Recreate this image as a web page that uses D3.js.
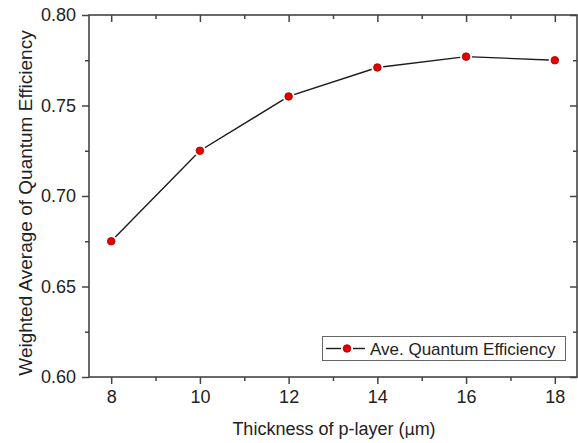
<!DOCTYPE html>
<html>
<head>
<meta charset="utf-8">
<script src="https://cdn.jsdelivr.net/npm/d3@7"></script>
<style>
  body { margin: 0; background: #fff; }
  svg { display: block; font-family: "Liberation Sans", Arial, sans-serif; }
</style>
</head>
<body>
<div id="chart"></div>
<script>
// data
const thickness = [8, 10, 12, 14, 16, 18];
const efficiency = [0.675, 0.725, 0.755, 0.771, 0.777, 0.775];
const xTicks = [8, 10, 12, 14, 16, 18];
const yTicks = [0.60, 0.65, 0.70, 0.75, 0.80];
const seriesName = "Ave. Quantum Efficiency";

const width = 578, height = 443;
const margin = {top: 15, right: 1, bottom: 66, left: 89};

const svg = d3.select("#chart").append("svg")
    .attr("width", width)
    .attr("height", height);

const x = d3.scaleLinear()
    .domain([7.5, 18.5])
    .range([margin.left, width - margin.right]);

const y = d3.scaleLinear()
    .domain([0.60, 0.80])
    .range([height - margin.bottom, margin.top]);

const minorX = d3.range(9, 18, 2);
const minorY = [0.625, 0.675, 0.725, 0.775];

const frameColor = "#444";

// axes: major + minor ticks, outward on left/bottom, inward on top/right
function drawAxis(axisFn, scale, pos, majors, minors, dir, labels) {
  const g = svg.append("g").attr("transform", pos);
  g.call(axisFn(scale).tickValues(minors).tickSize(4 * dir).tickFormat(""));
  g.select(".domain").remove();
  const g2 = svg.append("g").attr("transform", pos);
  g2.call(axisFn(scale).tickValues(majors).tickSize(7 * dir).tickSizeOuter(0)
      .tickPadding(5)
      .tickFormat(labels ? labels : ""));
  g2.select(".domain").remove();
  [g, g2].forEach(s => s.selectAll("line").attr("stroke", frameColor).attr("stroke-width", 1.5));
  g2.selectAll("text")
    .attr("fill", "#222")
    .style("font-size", "18px")
    .style("font-family", "'Liberation Sans', Arial, sans-serif");
  return g2;
}

const bottom = height - margin.bottom;
const gx = drawAxis(d3.axisBottom, x, `translate(0,${bottom})`, xTicks, minorX, 1, d3.format("d"));
gx.selectAll("text").attr("dy", "0.8em");
drawAxis(d3.axisTop, x, `translate(0,${margin.top})`, xTicks, minorX, -1, null);
const gy = drawAxis(d3.axisLeft, y, `translate(${margin.left},0)`, yTicks, minorY, 1, d3.format(".2f"));
gy.selectAll("text").attr("dx", "-1px");
drawAxis(d3.axisRight, y, `translate(${width - margin.right},0)`, yTicks, minorY, -1, null);

// frame
svg.append("rect")
    .attr("x", margin.left)
    .attr("y", margin.top)
    .attr("width", width - margin.right - margin.left)
    .attr("height", bottom - margin.top)
    .attr("fill", "none")
    .attr("stroke", frameColor)
    .attr("stroke-width", 1.6);

const pts = thickness.map((t, i) => ({t: t, v: efficiency[i]}));

// line
svg.append("path")
    .datum(pts)
    .attr("fill", "none")
    .attr("stroke", "#1a1a1a")
    .attr("stroke-width", 1.4)
    .attr("d", d3.line().x(d => x(d.t)).y(d => y(d.v)));

// small gap round markers (Origin style)
svg.append("g").selectAll("circle")
  .data(pts)
  .join("circle")
    .attr("cx", d => x(d.t))
    .attr("cy", d => y(d.v))
    .attr("r", 6)
    .attr("fill", "#fff");

svg.append("g").selectAll("circle")
  .data(pts)
  .join("circle")
    .attr("cx", d => x(d.t))
    .attr("cy", d => y(d.v))
    .attr("r", 3.8)
    .attr("fill", "#e60000")
    .attr("stroke", "#9a0000")
    .attr("stroke-width", 0.8);

// axis titles
svg.append("text")
    .attr("x", 334)
    .attr("y", 435)
    .attr("text-anchor", "middle")
    .attr("fill", "#222")
    .style("font-size", "18px")
    .text("Thickness of p-layer (")
  .append("tspan")
    .style("font-family", "'DejaVu Sans', sans-serif")
    .style("font-size", "16px")
    .text("μ")
  .select(function() { return this.parentNode; })
  .append("tspan")
    .text("m)");

svg.append("text")
    .attr("transform", "translate(32,203) rotate(-90)")
    .attr("text-anchor", "middle")
    .attr("fill", "#222")
    .style("font-size", "19px")
    .text("Weighted Average of Quantum Efficiency");

// legend
const legend = svg.append("g");
legend.append("rect")
    .attr("x", 322.5)
    .attr("y", 336.5)
    .attr("width", 243)
    .attr("height", 24)
    .attr("fill", "#fff")
    .attr("stroke", "#666")
    .attr("stroke-width", 1);
const ly = 348.5;
legend.append("line")
    .attr("x1", 326).attr("x2", 341).attr("y1", ly).attr("y2", ly)
    .attr("stroke", "#1a1a1a").attr("stroke-width", 1.4);
legend.append("line")
    .attr("x1", 353).attr("x2", 365).attr("y1", ly).attr("y2", ly)
    .attr("stroke", "#1a1a1a").attr("stroke-width", 1.4);
legend.append("circle")
    .attr("cx", 347).attr("cy", ly).attr("r", 3.8)
    .attr("fill", "#e60000").attr("stroke", "#9a0000").attr("stroke-width", 0.8);
legend.append("text")
    .attr("x", 370)
    .attr("y", ly + 6)
    .attr("fill", "#222")
    .style("font-size", "17px")
    .text(seriesName);
</script>
</body>
</html>
